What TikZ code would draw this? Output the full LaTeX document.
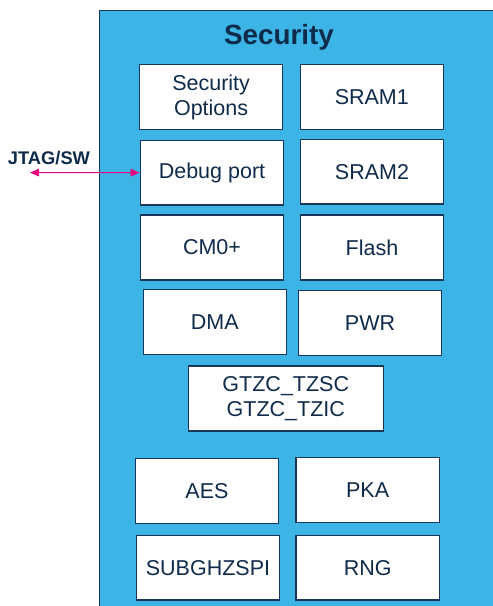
\documentclass[tikz,border=0pt]{standalone}
\usepackage{fontspec}
\setmainfont{Liberation Sans}
\usetikzlibrary{arrows.meta}
\definecolor{stblue}{HTML}{3CB4E6}
\definecolor{navy}{HTML}{0F2B4C}
\definecolor{edge}{HTML}{17365C}
\definecolor{pink}{HTML}{E6007E}
\tikzset{
  block/.style={draw=edge, line width=1.3pt, fill=white, text=navy,
    font=\fontsize{21.5}{25}\selectfont, align=center, inner sep=0pt},
}
\newcommand{\blk}[6]{% name, x1, y1, x2, y2, text
  \node[block, minimum width={#4-#2}, minimum height={#5-#3}]
    (#1) at ({(#2+#4)/2},{(#3+#5)/2}) {#6};}
\begin{document}
\begin{tikzpicture}[x=1pt, y=-1pt]
  \useasboundingbox (0,0) rectangle (493,606);
  \clip (0,0) rectangle (493,606);
  % security domain
  \draw[draw=edge, line width=1pt, fill=stblue] (99.5,10) rectangle (510,620);
  \node[text=navy, font=\bfseries\fontsize{27.8}{30}\selectfont] (title) at (279,37.5) {Security};
  % blocks
  \blk{secopt}{139.5}{64.5}{282.7}{129.7}{Security\\Options}
  \blk{sram1}{300.3}{64.5}{443.3}{129.7}{SRAM1}
  \blk{debug}{140.3}{140.3}{283.7}{205}{Debug port}
  \blk{sram2}{300.3}{139.3}{443.7}{204}{SRAM2}
  \blk{cm0}{140.3}{215}{283.7}{280}{CM0+}
  \blk{flash}{300.7}{215}{443.3}{280}{Flash}
  \blk{dma}{143.3}{289.7}{286.3}{354.7}{DMA}
  \blk{pwr}{298.3}{290.7}{441.7}{355.7}{PWR}
  \blk{gtzc}{188.3}{366}{383.3}{431}{GTZC\_TZSC\\GTZC\_TZIC}
  \blk{aes}{135.3}{458.3}{278.7}{523.3}{AES}
  \blk{pka}{296}{457.7}{439.3}{522.7}{PKA}
  \blk{subghz}{136.3}{535.3}{279.7}{600}{SUBGHZSPI}
  \blk{rng}{296}{535.3}{439.3}{600}{RNG}
  % debug interface
  \coordinate (jtag) at (30,172.6);
  \node[text=navy, font=\bfseries\fontsize{18.3}{20}\selectfont] (jtaglbl) at (49,158.5) {JTAG/SW};
  \draw[pink, line width=1.2pt, {Triangle[length=9pt,width=7.5pt]}-{Triangle[length=9pt,width=7.5pt]}]
    (jtag) -- (debug.west);
\end{tikzpicture}
\end{document}
